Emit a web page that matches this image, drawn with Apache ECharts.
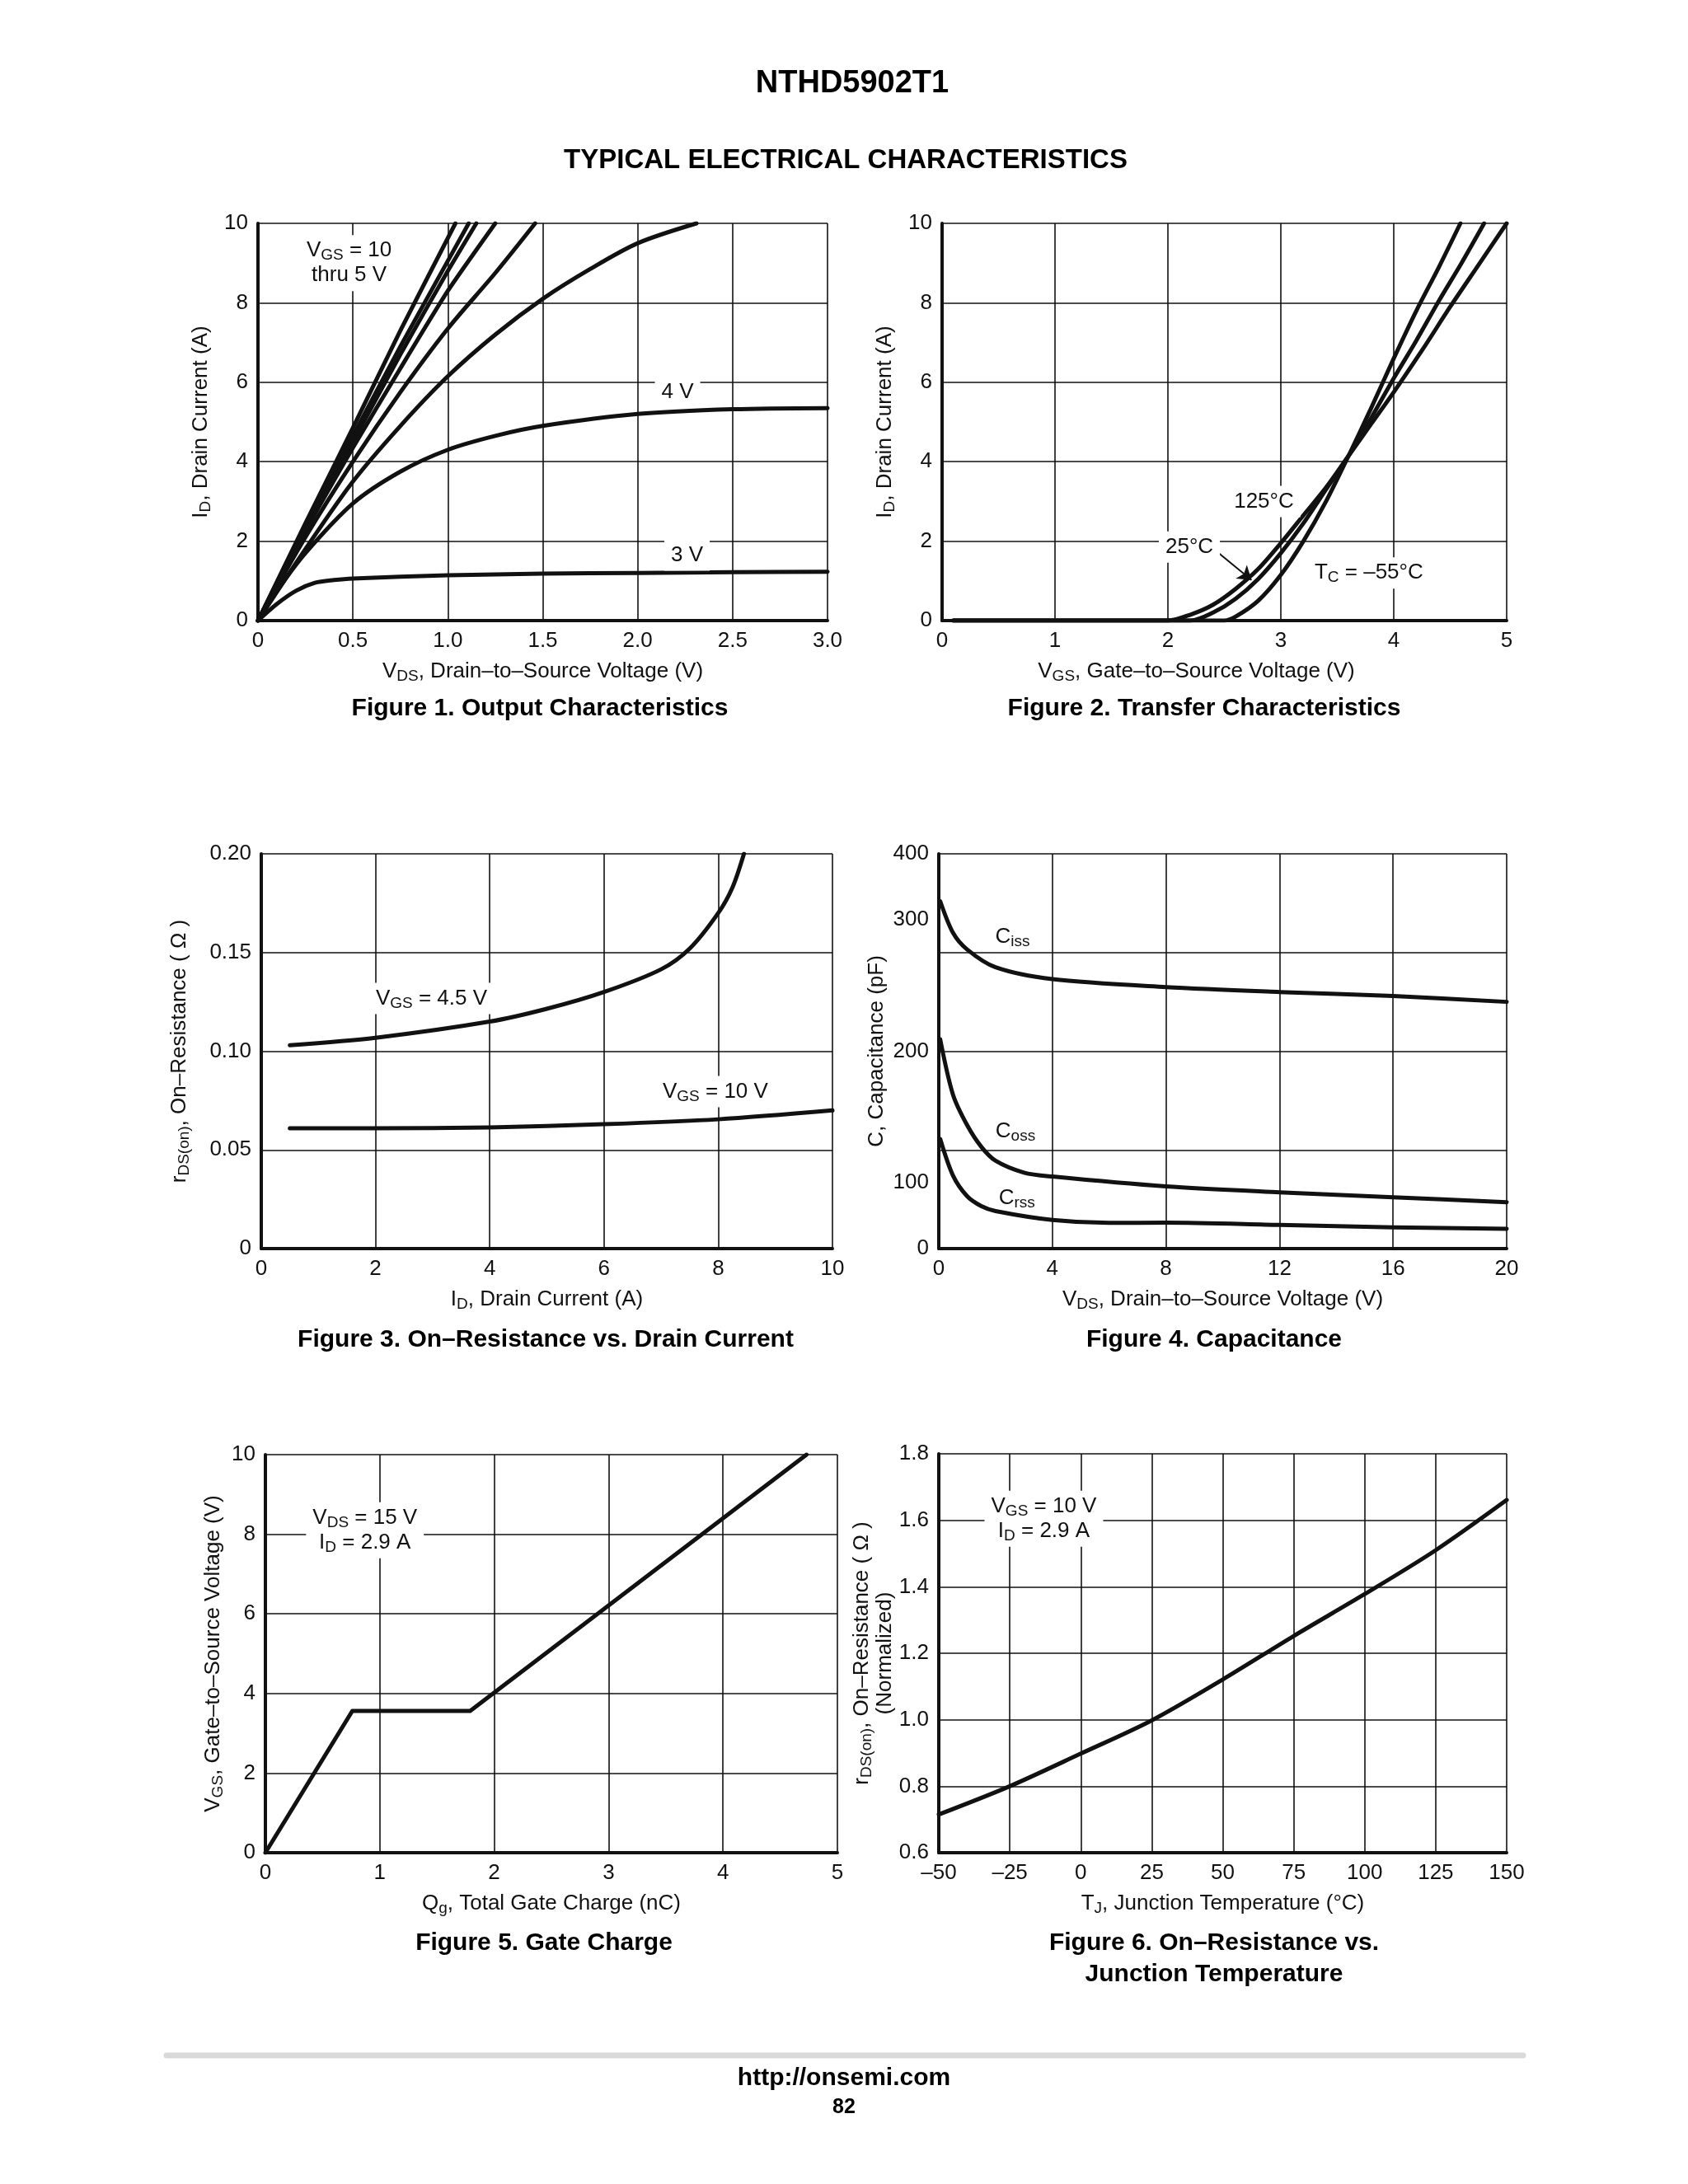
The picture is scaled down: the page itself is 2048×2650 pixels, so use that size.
<!DOCTYPE html>
<html><head><meta charset="utf-8">
<script src="https://cdn.jsdelivr.net/npm/echarts@6/dist/echarts.min.js"></script>
<style>html,body{margin:0;padding:0;background:#fff}#c{width:2048px;height:2650px}</style>
</head><body><div id="c"></div>
<script>
// ---------- Figure 1: Output Characteristics (VDS [V], ID [A]) ----------
const f1_vgs10 = [[0,0],[0.25,2.45],[0.5,4.85],[0.75,7.3],[1.04,10]];
const f1_vgs8  = [[0,0],[0.25,2.35],[0.5,4.65],[0.75,6.9],[1.11,10]];
const f1_vgs7  = [[0,0],[0.25,2.3],[0.5,4.5],[0.75,6.7],[1.0,8.8],[1.15,10]];
const f1_vgs6  = [[0,0],[0.25,2.25],[0.5,4.35],[0.75,6.35],[1.0,8.3],[1.25,10]];
const f1_vgs5  = [[0,0],[0.25,2.1],[0.5,4.0],[0.75,5.75],[1.0,7.35],[1.25,8.75],[1.46,10]];
const f1_vgs45 = [[0,0],[0.25,1.8],[0.5,3.5],[0.75,4.9],[1.0,6.15],[1.25,7.2],[1.5,8.1],[1.75,8.85],[2.0,9.5],[2.31,10]];
const f1_vgs4  = [[0,0],[0.1,0.75],[0.25,1.7],[0.5,2.95],[0.75,3.75],[1.0,4.3],[1.25,4.65],[1.5,4.9],[2.0,5.2],[2.5,5.32],[3.0,5.35]];
const f1_vgs3  = [[0,0],[0.1,0.42],[0.2,0.75],[0.3,0.95],[0.4,1.02],[0.5,1.06],[1.0,1.14],[1.5,1.18],[2.0,1.2],[2.5,1.22],[3.0,1.23]];

// ---------- Figure 2: Transfer Characteristics (VGS [V], ID [A]) ----------
const f2_t125 = [[0.1,0],[2.0,0],[2.2,0.15],[2.4,0.4],[2.6,0.8],[2.8,1.3],[3.0,1.95],[3.2,2.65],[3.4,3.35],[3.6,4.15],[3.8,4.95],[4.0,5.75],[4.25,6.8],[4.5,7.9],[4.75,8.95],[5.0,10]];
const f2_t25  = [[0.1,0],[2.2,0],[2.4,0.2],[2.6,0.55],[2.8,1.05],[3.0,1.7],[3.2,2.45],[3.4,3.3],[3.6,4.15],[3.8,5.1],[4.0,6.1],[4.2,7.05],[4.4,8.05],[4.6,9.0],[4.8,10]];
const f2_tm55 = [[0.1,0],[2.5,0],[2.6,0.1],[2.8,0.5],[3.0,1.15],[3.2,2.0],[3.4,3.0],[3.6,4.15],[3.8,5.35],[4.0,6.6],[4.2,7.8],[4.4,8.9],[4.59,10]];

// ---------- Figure 3: On-Resistance vs Drain Current (ID [A], rDS [ohm]) ----------
const f3_vgs45 = [[0.5,0.103],[2,0.1068],[4,0.115],[5,0.1215],[6,0.13],[7,0.1415],[7.5,0.152],[8,0.17],[8.25,0.183],[8.45,0.2]];
const f3_vgs10 = [[0.5,0.061],[2,0.061],[4,0.0614],[6,0.063],[8,0.0655],[10,0.07]];

// ---------- Figure 4: Capacitance (VDS [V], C [pF]) ----------
const f4_ciss = [[0.05,352],[0.5,320],[1,303],[2,285],[4,273],[8,265],[12,260],[16,256],[20,250]];
const f4_coss = [[0.05,212],[0.5,156],[1,125],[1.5,103],[2,89],[3,77],[4,73],[8,63],[12,57],[16,52],[20,47]];
const f4_crss = [[0.05,111],[0.5,74],[1,53],[1.5,43],[2,38],[4,29],[6,26],[8,26.4],[12,24],[16,21.6],[20,20]];
const f4_yTickLabels = ['0','100','200','300','400'];

// ---------- Figure 5: Gate Charge (Qg [nC], VGS [V]) ----------
const f5_vgs = [[0,0],[0.76,3.56],[1.79,3.56],[4.73,10]];

// ---------- Figure 6: On-Resistance vs Junction Temperature (TJ [C], normalized) ----------
const f6_temp = [-50,-25,0,25,50,75,100,125,150];
const f6_rds  = [0.715,0.80,0.898,0.998,1.121,1.252,1.378,1.51,1.661];

const FONT = '"Liberation Sans", Arial, Helvetica, sans-serif';
const INK = '#111';
const rich = {
  n: {fontSize: 26, fontFamily: FONT, color: INK},
  s: {fontSize: 19, fontFamily: FONT, color: INK, padding: [12, 0, 0, 0]}
};

const grids = [
  {left: 313, top: 271, width: 691, height: 482},
  {left: 1143, top: 271, width: 685, height: 482},
  {left: 317, top: 1036, width: 693, height: 479},
  {left: 1139, top: 1036, width: 689, height: 479},
  {left: 322, top: 1765, width: 694, height: 483},
  {left: 1139, top: 1764, width: 689, height: 484}
];

function xAx(gi, min, max, interval, name, fmt, shiftLeft) {
  return {gridIndex: gi, type: 'value', min, max, interval, name,
    nameLocation: 'middle', nameGap: 46,
    nameTextStyle: {fontFamily: FONT, fontSize: 26, color: INK, rich,
      padding: [0, shiftLeft ? 2 * shiftLeft : 0, 0, 0]},
    axisLine: {show: true, onZero: false, lineStyle: {color: INK, width: 4}},
    axisTick: {show: false},
    axisLabel: {fontFamily: FONT, fontSize: 26, color: INK, margin: 12, formatter: fmt},
    splitLine: {show: true, lineStyle: {color: INK, width: 1.6}}};
}
function yAx(gi, min, max, interval, name, fmt, gap) {
  return {gridIndex: gi, type: 'value', min, max, interval, name, position: 'left',
    nameLocation: 'middle', nameGap: gap,
    nameTextStyle: {fontFamily: FONT, fontSize: 26, color: INK, rich, align: 'center'},
    axisLine: {show: true, onZero: false, lineStyle: {color: INK, width: 4}},
    axisTick: {show: false},
    axisLabel: {fontFamily: FONT, fontSize: 26, color: INK, margin: 12, formatter: fmt},
    splitLine: {show: true, lineStyle: {color: INK, width: 1.6}}};
}
const fmt1 = v => v === 0 ? '0' : v.toFixed(1);
const fmt2 = v => v === 0 ? '0' : v.toFixed(2);
const fmtInt = v => String(Math.round(v));
const fmtDash = v => String(Math.round(v)).replace('-', '\u2013');

const xAxes = [
  xAx(0, 0, 3, 0.5, '{n|V}{s|DS}{n|, Drain\u2013to\u2013Source Voltage (V)}', fmt1),
  xAx(1, 0, 5, 1, '{n|V}{s|GS}{n|, Gate\u2013to\u2013Source Voltage (V)}', fmtInt, 34),
  xAx(2, 0, 10, 2, '{n|I}{s|D}{n|, Drain Current (A)}', fmtInt),
  xAx(3, 0, 20, 4, '{n|V}{s|DS}{n|, Drain\u2013to\u2013Source Voltage (V)}', fmtInt),
  xAx(4, 0, 5, 1, '{n|Q}{s|g}{n|, Total Gate Charge (nC)}', fmtInt),
  xAx(5, -50, 150, 25, '{n|T}{s|J}{n|, Junction Temperature (\u00b0C)}', fmtDash)
];
const yAxes = [
  yAx(0, 0, 10, 2, '{n|I}{s|D}{n|, Drain Current (A)}', fmtInt, 54),
  yAx(1, 0, 10, 2, '{n|I}{s|D}{n|, Drain Current (A)}', fmtInt, 54),
  yAx(2, 0, 0.2, 0.05, '{n|r}{s|DS(on)}{n|, On\u2013Resistance ( \u03a9 )}', fmt2, 84),
  yAx(3, 0, 400, 100, '{n|C, Capacitance (pF)}', v => (v === 0 || v === 200 || v === 400) ? String(v) : '', 62),
  yAx(4, 0, 10, 2, '{n|V}{s|GS}{n|, Gate\u2013to\u2013Source Voltage (V)}', fmtInt, 48),
  yAx(5, 0.6, 1.8, 0.2, '{n|r}{s|DS(on)}{n|, On\u2013Resistance ( \u03a9 )}\n{n|(Normalized)}', fmt1, 50)
];
// Extra label-only axis reproducing the offset "100"/"300" labels of Figure 4
yAxes.push({gridIndex: 3, type: 'value', min: 0, max: 400, interval: 400 / 6, position: 'left',
  axisLine: {show: false}, axisTick: {show: false}, splitLine: {show: false},
  axisLabel: {fontFamily: FONT, fontSize: 26, color: INK, margin: 12,
    formatter: (v, i) => i === 1 ? f4_yTickLabels[1] : (i === 5 ? f4_yTickLabels[3] : '')}});

function curve(ai, data, smooth) {
  return {type: 'line', xAxisIndex: ai, yAxisIndex: ai, data, showSymbol: false, symbol: 'none',
    smooth: smooth === undefined ? 0.3 : smooth, silent: true,
    lineStyle: {color: INK, width: 5, cap: 'round', join: 'round'}, z: 3};
}
function note(ai, pos, text, extra, noBg) {
  return Object.assign({type: 'scatter', xAxisIndex: ai, yAxisIndex: ai, data: [pos],
    symbol: 'circle', symbolSize: 0.5, itemStyle: {color: '#fff', opacity: 1},
    silent: true, z: 5, emphasis: {disabled: true},
    label: {show: true, position: 'inside', formatter: text, align: 'center', rich, opacity: 1,
      backgroundColor: noBg ? 'transparent' : '#ffffff', padding: [4, 8], lineHeight: 30}}, extra || {});
}

const series = [
  curve(0, f1_vgs10, 0.15), curve(0, f1_vgs8, 0.15), curve(0, f1_vgs7, 0.15), curve(0, f1_vgs6, 0.2),
  curve(0, f1_vgs5), curve(0, f1_vgs45), curve(0, f1_vgs4), curve(0, f1_vgs3),
  note(0, [0.48, 9.0], '{n|V}{s|GS}{n| = 10}\n{n|thru 5 V}'),
  note(0, [2.21, 5.75], '{n|4 V}'),
  note(0, [2.26, 1.65], '{n|3 V}'),
  curve(1, f2_t125), curve(1, f2_t25), curve(1, f2_tm55),
  note(1, [2.85, 3.0], '{n|125\u00b0C}'),
  note(1, [2.19, 1.85], '{n|25\u00b0C}', {markLine: {silent: true, symbol: ['none', 'arrow'], symbolSize: 16,
    label: {show: false}, lineStyle: {color: INK, width: 2, type: 'solid'},
    data: [[{coord: [2.44, 1.72]}, {coord: [2.74, 1.02]}]]}}),
  note(1, [3.78, 1.2], '{n|T}{s|C}{n| = \u201355\u00b0C}'),
  curve(2, f3_vgs45), curve(2, f3_vgs10),
  note(2, [2.98, 0.1267], '{n|V}{s|GS}{n| = 4.5 V}'),
  note(2, [7.95, 0.0795], '{n|V}{s|GS}{n| = 10 V}'),
  curve(3, f4_ciss), curve(3, f4_coss), curve(3, f4_crss),
  note(3, [2.6, 316], '{n|C}{s|iss}', null, true),
  note(3, [2.7, 119], '{n|C}{s|oss}', null, true),
  note(3, [2.75, 51], '{n|C}{s|rss}', null, true),
  curve(4, f5_vgs, false),
  note(4, [0.87, 8.1], '{n|V}{s|DS}{n| = 15 V}\n{n|I}{s|D}{n| = 2.9 A}'),
  curve(5, f6_temp.map((t, i) => [t, f6_rds[i]])),
  note(5, [-13, 1.605], '{n|V}{s|GS}{n| = 10 V}\n{n|I}{s|D}{n| = 2.9 A}')
];

function txt(x, y, text, size, bold) {
  return {type: 'text', x, y, silent: true,
    style: {text, fontFamily: FONT, fontSize: size, fontWeight: bold ? 'bold' : 'normal',
      fill: '#000', align: 'center', verticalAlign: 'middle'}};
}
const graphic = [
  txt(1034, 102, 'NTHD5902T1', 38, true),
  txt(1026, 195, 'TYPICAL ELECTRICAL CHARACTERISTICS', 33, true),
  txt(655, 860, 'Figure 1. Output Characteristics', 30, true),
  txt(1461, 860, 'Figure 2. Transfer Characteristics', 30, true),
  txt(662, 1626, 'Figure 3. On\u2013Resistance vs. Drain Current', 30, true),
  txt(1473, 1626, 'Figure 4. Capacitance', 30, true),
  txt(660, 2358, 'Figure 5. Gate Charge', 30, true),
  txt(1473, 2358, 'Figure 6. On\u2013Resistance vs.', 30, true),
  txt(1473, 2396, 'Junction Temperature', 30, true),
  {type: 'line', silent: true, shape: {x1: 202, y1: 2494, x2: 1848, y2: 2494},
    style: {stroke: '#d9d9d9', lineWidth: 7, lineCap: 'round'}},
  txt(1024, 2522, 'http://onsemi.com', 30, true),
  txt(1024, 2557, '82', 25, true)
];

const chart = echarts.init(document.getElementById('c'), null, {renderer: 'canvas'});
chart.setOption({
  backgroundColor: '#fff',
  animation: false,
  textStyle: {fontFamily: FONT},
  grid: grids,
  xAxis: xAxes,
  yAxis: yAxes,
  series,
  graphic
});
</script>
</body></html>
